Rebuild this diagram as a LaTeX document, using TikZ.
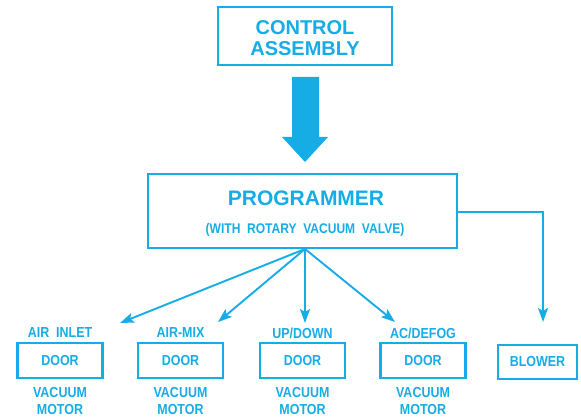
\documentclass[tikz,border=0pt]{standalone}
\usepackage{fontspec}
\setmainfont{Liberation Sans}
\newfontfamily\labelfont[FakeStretch=0.86]{Liberation Sans Bold}
\usetikzlibrary{arrows.meta}
\definecolor{ink}{RGB}{22,172,230}
\tikzset{
  box/.style={draw=ink, line width=2.6pt, inner sep=0pt},
  conn/.style={draw=ink, line width=1.9pt, -{Stealth[length=14pt,width=10pt,inset=3pt]}},
  tag/.style={text=ink, font=\labelfont\fontsize{14.5}{15}\selectfont, inner sep=0pt, align=center},
}
\begin{document}
\begin{tikzpicture}[x=1pt, y=-1pt]
\useasboundingbox (0,0) rectangle (581,419);

% top box
\node[box, minimum width=174pt, minimum height=58pt] (ctrl) at (305,36) {};
\node[text=ink, align=center, inner sep=0pt,
      font=\bfseries\fontsize{20}{21}\selectfont]
  (ctrlt) at (305,38) {CONTROL\\ASSEMBLY};

% heavy arrow from control assembly to programmer
\fill[ink] (292,77) -- (319,77) -- (319,137) -- (328,137) -- (305,162)
  -- (282,137) -- (292,137) -- cycle;

% programmer
\node[box, minimum width=309pt, minimum height=74pt] (prog) at (302.5,211) {};
\node[text=ink, font=\bfseries\fontsize{21}{22}\selectfont, inner sep=0pt]
  (progt) at (306,198.5) {PROGRAMMER};
\node[text=ink, font=\labelfont\fontsize{14}{15}\selectfont, inner sep=0pt]
  (progs) at (305,230) {(WITH\ \ ROTARY\ \ VACUUM\ \ VALVE)};

% actuators
\foreach \n/\x/\lbl in {ai/60/{AIR\ \ INLET}, am/180.5/{AIR-MIX},
    ud/302.5/{UP/DOWN}, ac/423/{AC/DEFOG}}{
  \node[box, minimum width=85pt, minimum height=35pt, tag] (\n) at (\x,360.5) {DOOR};
  \node[tag] (\n l) at (\x,333) {\lbl};
  \node[tag] (\n m) at (\x,401) {VACUUM\\[2pt]MOTOR};
}
\node[box, minimum width=79pt, minimum height=34pt, tag] (bl) at (537.5,362) {BLOWER};

% connectors
\coordinate (src) at (305,249);
\coordinate (tai) at (120,323);
\coordinate (tam) at (218,322);
\coordinate (tud) at (305,323);
\coordinate (tac) at (395,322);
\coordinate (tbl) at (543,322);
\coordinate (pe) at (prog.east |- 0,212);
\draw[conn] (src) -- (tai);
\draw[conn] (src) -- (tam);
\draw[conn] (src) -- (tud);
\draw[conn] (src) -- (tac);
\draw[conn] (pe) -| (tbl);
\end{tikzpicture}
\end{document}
